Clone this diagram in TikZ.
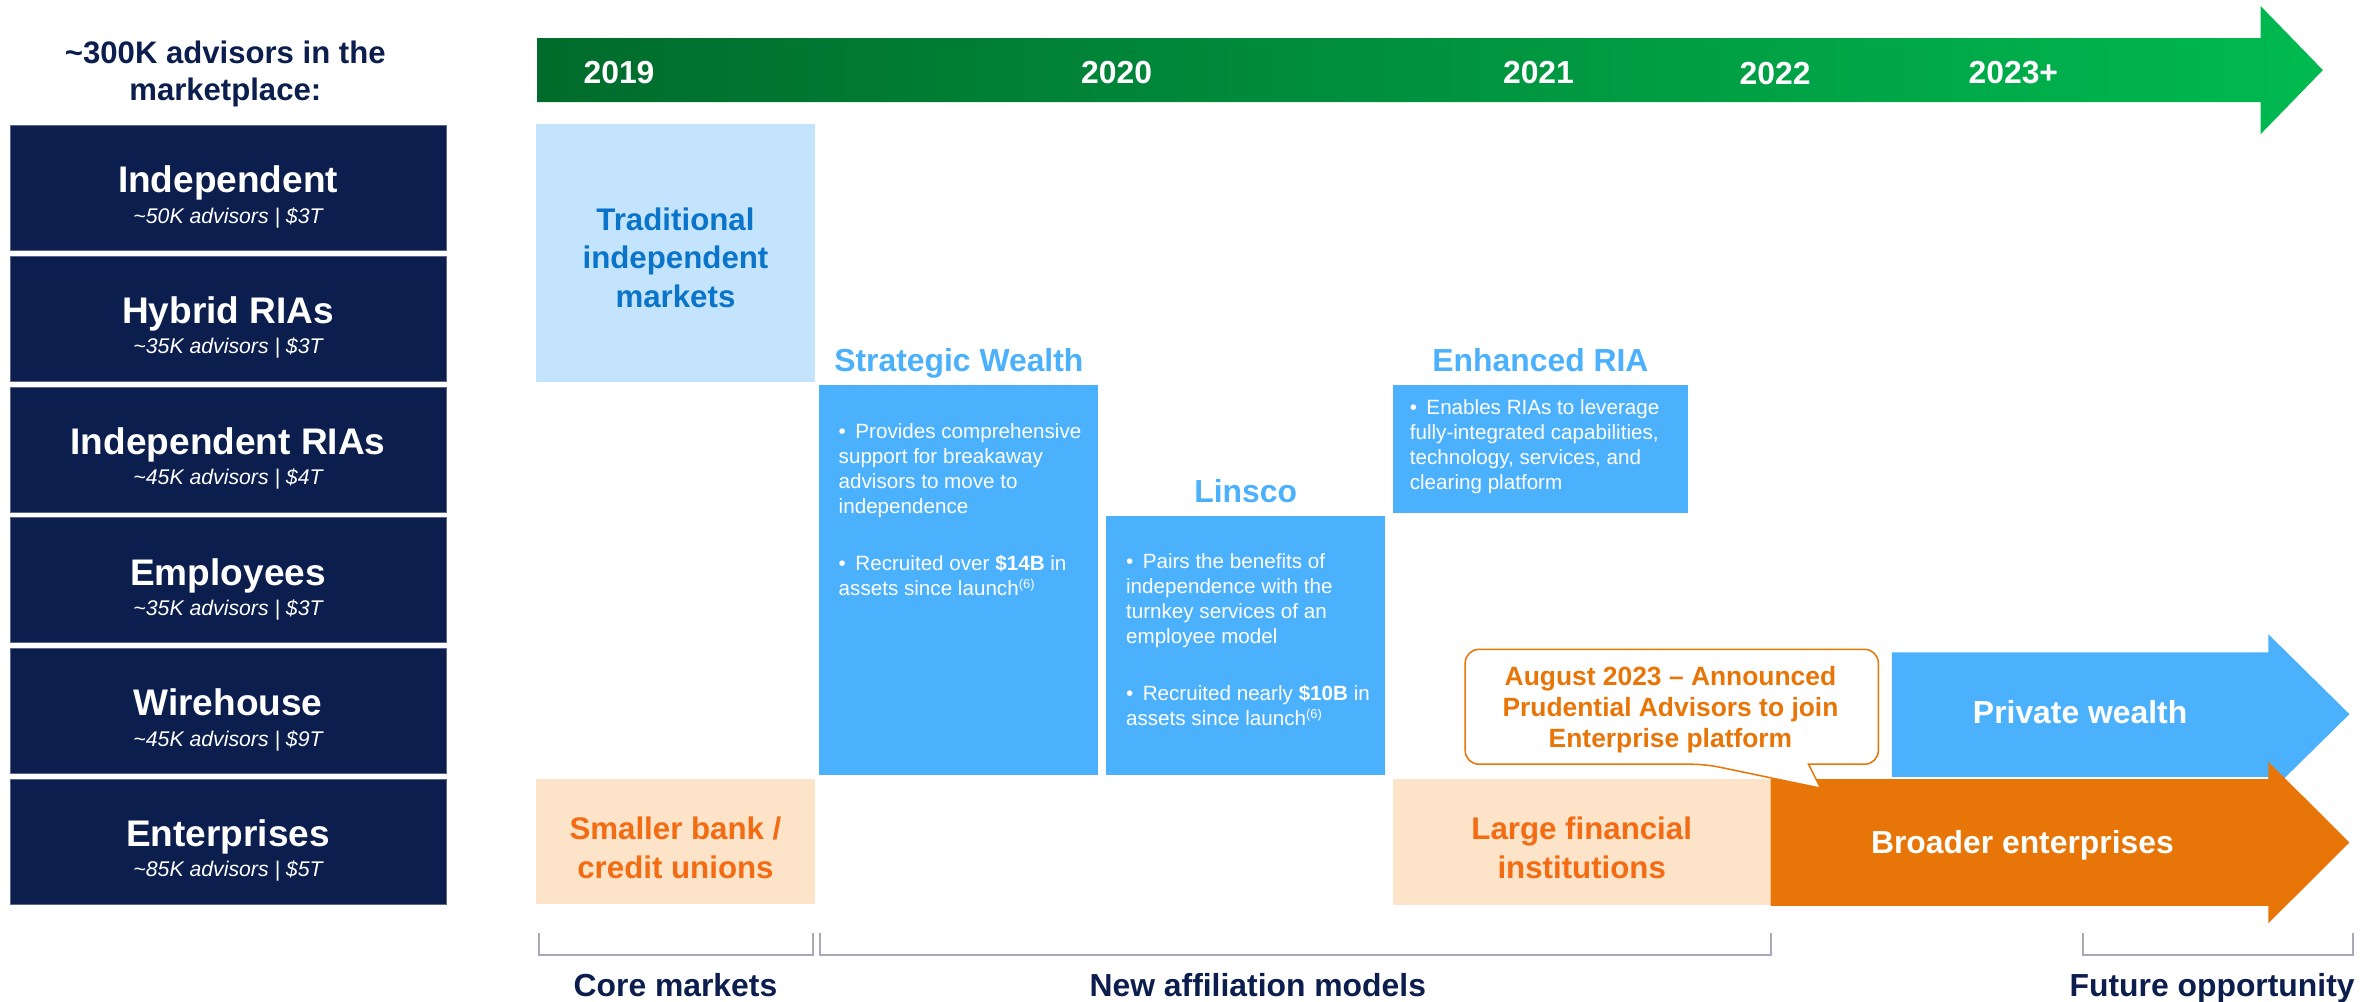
\documentclass[tikz,border=0pt]{standalone}
\usepackage{fontspec}
\setmainfont{Liberation Sans}

\definecolor{navy}{HTML}{0C1E4E}
\definecolor{navyedge}{HTML}{5C6788}
\definecolor{greenA}{HTML}{006B2C}
\definecolor{greenB}{HTML}{00BA50}
\definecolor{paleblue}{HTML}{C3E4FC}
\definecolor{tradblue}{HTML}{0A74CB}
\definecolor{skyblue}{HTML}{4BB1FC}
\definecolor{peach}{HTML}{FDE3C8}
\definecolor{redorange}{HTML}{F36B12}
\definecolor{deeporange}{HTML}{E87508}
\definecolor{bracketgray}{HTML}{A7A9B8}

\newcommand{\fsz}[2]{\fontsize{#1}{#2}\selectfont}
\newcommand{\ctext}[2]{\parbox[t]{#1}{\centering #2}}
\newcommand{\ltext}[2]{\parbox[t]{#1}{\raggedright #2}}
\newcommand{\bitem}{\hangindent=11pt\hangafter=1\noindent\makebox[11pt][l]{\textbullet}}
\newcommand{\noteref}[1]{\raisebox{4.5pt}{\fsz{8.5}{8.5}#1}}

\begin{document}
\begin{tikzpicture}[x=1pt,y=-1pt,
  txt/.style={inner sep=0pt, anchor=base},
  ltxt/.style={inner sep=0pt, anchor=base west},
  segbox/.style={rectangle, fill=navy, draw=navyedge, line width=0.5pt,
    minimum width=287pt, minimum height=82.4pt, inner sep=0pt, anchor=north west},
  segname/.style={txt, font=\fsz{24.4}{28}\bfseries, text=white},
  segstat/.style={txt, font=\fsz{14}{16}\itshape, text=white},
  year/.style={txt, font=\fsz{21}{24}\bfseries, text=white},
  heading/.style={txt, font=\fsz{21}{24}\bfseries, text=skyblue},
  bullets/.style={ltxt, font=\fsz{13.6}{16.5}, text=white},
  bigtext/.style={txt, font=\fsz{20.6}{25.3}\bfseries},
  arrowtext/.style={txt, font=\fsz{21}{24}\bfseries, text=white},
  bracket/.style={draw=bracketgray, line width=1.2pt},
  groupname/.style={txt, font=\fsz{21}{24}\bfseries, text=navy}]

\fill[white] (0,0) rectangle (1568,660);
\path[use as bounding box] (0,0) rectangle (1568,660);

% heading of the segment column
\node[txt, font=\fsz{20.5}{24.3}\bfseries, text=navy] (mkt) at (148.5,41.7)
  {\ctext{280pt}{\textasciitilde300K advisors in the\\marketplace:}};

% advisor segments
\foreach \i/\seg/\stat in {0/Independent/50K advisors | \$3T,
                           1/Hybrid RIAs/35K advisors | \$3T,
                           2/Independent RIAs/45K advisors | \$4T,
                           3/Employees/35K advisors | \$3T,
                           4/Wirehouse/45K advisors | \$9T,
                           5/Enterprises/85K advisors | \$5T} {
  \pgfmathsetmacro{\segtop}{82.4+86.2*\i}
  \node[segbox] (seg\i) at (6.7,\segtop) {};
  \node[segname] (segname\i) at (150.3,\segtop+44.6) {\seg};
  \node[segstat] (segstat\i) at (150.3,\segtop+64.6) {\textasciitilde\stat};
}

% timeline arrow
\shade[left color=greenA, right color=greenB]
  (354,25.2) -- (1490,25.2) -- (1490,4) -- (1531,46.2) -- (1490,88.4)
  -- (1490,67.3) -- (354,67.3) -- cycle;
\node[year] (y19) at (408,55) {2019};
\node[year] (y20) at (736,55) {2020};
\node[year] (y21) at (1014,55) {2021};
\node[year] (y22) at (1170,56) {2022};
\node[year] (y23) at (1327,55) {2023+};

% core markets
\fill[paleblue] (353.3,81.5) rectangle (537,252);
\node[bigtext, text=tradblue] (trad) at (445.2,152)
  {\ctext{175pt}{Traditional\\independent\\markets}};

\fill[peach] (353.3,513.4) rectangle (537,596);
\node[bigtext, text=redorange] (smallbank) at (445.2,553.5)
  {\ctext{175pt}{Smaller bank /\\credit unions}};

% Strategic Wealth
\node[heading] (swhead) at (632,245) {Strategic Wealth};
\fill[skyblue] (540,254) rectangle (724,511);
\node[bullets] (swtext) at (552.6,288.8)
  {\ltext{170pt}{\bitem Provides comprehensive\\support for breakaway\\advisors to move to\\independence\par
   \vspace{20.9pt}\bitem Recruited over \textbf{\$14B} in\\assets since launch\noteref{(6)}}};

% Linsco
\node[heading] (lihead) at (821,331.5) {Linsco};
\fill[skyblue] (729,340) rectangle (913,511);
\node[bullets] (litext) at (742,374.5)
  {\ltext{172pt}{\bitem Pairs the benefits of\\independence with the\\turnkey services of an\\employee model\par
   \vspace{21pt}\bitem Recruited nearly \textbf{\$10B} in\\assets since launch\noteref{(6)}}};

% Enhanced RIA
\node[heading] (erhead) at (1015.3,245) {Enhanced RIA};
\fill[skyblue] (918,254) rectangle (1112.6,338);
\node[bullets] (ertext) at (929,272.9)
  {\ltext{185pt}{\bitem Enables RIAs to leverage\\fully-integrated capabilities,\\technology, services, and\\clearing platform}};

% Large financial institutions
\fill[peach] (918,513.4) rectangle (1167,596.5);
\node[bigtext, text=redorange] (largefin) at (1042.5,553.5)
  {\ctext{220pt}{Large financial\\institutions}};

% future arrows
\fill[skyblue] (1247,430) -- (1495,430) -- (1495,418) -- (1548.5,470.7)
  -- (1495,523.4) -- (1495,512) -- (1247,512) -- cycle;
\node[arrowtext] (private) at (1371,476.6) {Private wealth};

\fill[deeporange] (1167,513.6) -- (1495,513.6) -- (1495,502) -- (1548.5,555.3)
  -- (1495,608.6) -- (1495,597) -- (1167,597) -- cycle;
\node[arrowtext] (broader) at (1333,562.5) {Broader enterprises};

% announcement callout
\draw[deeporange, fill=white, line width=1pt]
  (1238,466) [rounded corners=9pt] -- (1238,428) -- (965.7,428) -- (965.7,503.7)
  -- (1124,503.7) [sharp corners] -- (1200,519.5) -- (1192,503.7)
  [rounded corners=9pt] -- (1238,503.7) -- cycle;
\node[txt, font=\fsz{17.4}{20.75}\bfseries, text=deeporange] (callout) at (1101,451.5)
  {\ctext{265pt}{August 2023 \textendash{} Announced\\Prudential Advisors to join\\Enterprise platform}};

% group brackets
\draw[bracket] (355.3,614.8) -- (355.3,629.5) -- (536.1,629.5) -- (536.1,614.8);
\draw[bracket] (540.5,614.8) -- (540.5,629.5) -- (1167,629.5) -- (1167,614.8);
\draw[bracket] (1373,614.8) -- (1373,629.5) -- (1551,629.5) -- (1551,614.8);
\node[groupname] (gcore) at (445.2,656.6) {Core markets};
\node[groupname] (gnew) at (829,656.6) {New affiliation models};
\node[groupname] (gfut) at (1458,656.6) {Future opportunity};

\end{tikzpicture}
\end{document}
